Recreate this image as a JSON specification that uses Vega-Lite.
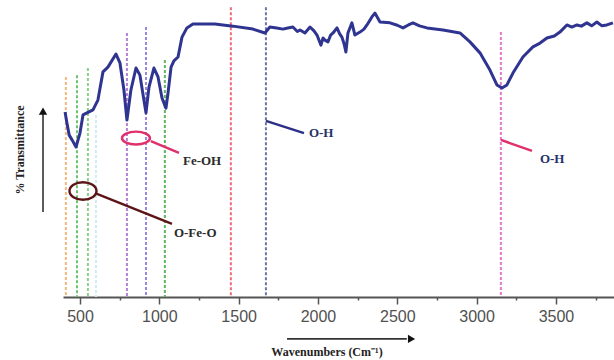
{
  "$schema": "https://vega.github.io/schema/vega-lite/v6.json",
  "width": 551,
  "height": 297,
  "autosize": "none",
  "padding": {"left": 63, "top": 0, "right": 0, "bottom": 63},
  "background": "white",
  "config": {"view": {"stroke": null}},
  "datasets": {
    "spectrum": [
      {"wn": 406, "t": 62.3}, {"wn": 418, "t": 58.5}, {"wn": 432, "t": 54.5}, {"wn": 450, "t": 52.9}, {"wn": 475, "t": 50.5},
      {"wn": 500, "t": 55.2}, {"wn": 519, "t": 61.3}, {"wn": 544, "t": 62.0}, {"wn": 582, "t": 63.0}, {"wn": 613, "t": 66.3},
      {"wn": 645, "t": 75.8}, {"wn": 676, "t": 77.4}, {"wn": 727, "t": 81.8}, {"wn": 752, "t": 78.8}, {"wn": 777, "t": 69.7},
      {"wn": 796, "t": 59.6}, {"wn": 821, "t": 69.7}, {"wn": 853, "t": 77.1}, {"wn": 878, "t": 74.7}, {"wn": 903, "t": 66.3},
      {"wn": 916, "t": 62.0}, {"wn": 935, "t": 70.7}, {"wn": 966, "t": 77.1}, {"wn": 992, "t": 74.1}, {"wn": 1017, "t": 67.0},
      {"wn": 1042, "t": 63.6}, {"wn": 1055, "t": 68.7}, {"wn": 1074, "t": 77.4}, {"wn": 1092, "t": 79.5}, {"wn": 1118, "t": 80.8},
      {"wn": 1143, "t": 87.5}, {"wn": 1174, "t": 90.6}, {"wn": 1212, "t": 91.9}, {"wn": 1256, "t": 91.9}, {"wn": 1350, "t": 91.9},
      {"wn": 1464, "t": 91.2}, {"wn": 1590, "t": 90.2}, {"wn": 1666, "t": 88.9}, {"wn": 1697, "t": 90.9}, {"wn": 1740, "t": 90.6},
      {"wn": 1779, "t": 90.2}, {"wn": 1810, "t": 90.6}, {"wn": 1842, "t": 90.9}, {"wn": 1870, "t": 89.4}, {"wn": 1887, "t": 89.9},
      {"wn": 1918, "t": 88.9}, {"wn": 1950, "t": 90.9}, {"wn": 1975, "t": 89.6}, {"wn": 1994, "t": 88.2}, {"wn": 2019, "t": 84.8},
      {"wn": 2032, "t": 87.2}, {"wn": 2044, "t": 86.5}, {"wn": 2063, "t": 85.9}, {"wn": 2080, "t": 88.2}, {"wn": 2095, "t": 88.9},
      {"wn": 2120, "t": 90.6}, {"wn": 2137, "t": 88.6}, {"wn": 2151, "t": 87.5}, {"wn": 2165, "t": 85.2}, {"wn": 2176, "t": 82.5},
      {"wn": 2189, "t": 88.9}, {"wn": 2214, "t": 92.3}, {"wn": 2233, "t": 88.2}, {"wn": 2265, "t": 89.2}, {"wn": 2290, "t": 90.2},
      {"wn": 2309, "t": 91.6}, {"wn": 2340, "t": 94.3}, {"wn": 2359, "t": 95.6}, {"wn": 2391, "t": 92.6}, {"wn": 2454, "t": 92.3},
      {"wn": 2500, "t": 91.5}, {"wn": 2536, "t": 90.6}, {"wn": 2570, "t": 91.6}, {"wn": 2599, "t": 92.3}, {"wn": 2640, "t": 91.3},
      {"wn": 2687, "t": 90.6}, {"wn": 2788, "t": 89.9}, {"wn": 2895, "t": 88.9}, {"wn": 2958, "t": 85.9}, {"wn": 3021, "t": 82.2},
      {"wn": 3084, "t": 76.4}, {"wn": 3128, "t": 71.4}, {"wn": 3160, "t": 70.4}, {"wn": 3191, "t": 71.4}, {"wn": 3229, "t": 75.4},
      {"wn": 3292, "t": 80.8}, {"wn": 3355, "t": 84.2}, {"wn": 3400, "t": 85.5}, {"wn": 3443, "t": 87.2}, {"wn": 3490, "t": 87.9},
      {"wn": 3525, "t": 89.2}, {"wn": 3569, "t": 91.6}, {"wn": 3600, "t": 90.9}, {"wn": 3632, "t": 91.6}, {"wn": 3660, "t": 91.2},
      {"wn": 3695, "t": 92.3}, {"wn": 3725, "t": 91.3}, {"wn": 3758, "t": 92.6}, {"wn": 3790, "t": 91.3}, {"wn": 3821, "t": 91.6},
      {"wn": 3859, "t": 92.3}
    ],
    "bands": [
      {"band": "b411", "wn": 411, "top": 74.1},
      {"band": "b481", "wn": 481, "top": 74.7},
      {"band": "b550", "wn": 550, "top": 77.1},
      {"band": "b601", "wn": 601, "top": 61.3},
      {"band": "b796", "wn": 796, "top": 88.9},
      {"band": "b916", "wn": 916, "top": 90.9},
      {"band": "b1035", "wn": 1035, "top": 79.8},
      {"band": "b1451", "wn": 1451, "top": 97.6},
      {"band": "b1672", "wn": 1672, "top": 97.6},
      {"band": "b3153", "wn": 3153, "top": 89.2}
    ],
    "callouts": [
      {"label": "Fe-OH", "wn": 947, "t": 52.5, "wn2": 1124, "t2": 48.5, "lwn": 1149, "lt": 45.8},
      {"label": "O-Fe-O", "wn": 595, "t": 35.0, "wn2": 1080, "t2": 24.6, "lwn": 1092, "lt": 21.5},
      {"label": "O-H", "wn": 1672, "t": 59.3, "wn2": 1912, "t2": 55.2, "lwn": 1943, "lt": 55.2},
      {"label": "O-H", "wn": 3153, "t": 52.9, "wn2": 3349, "t2": 49.2, "lwn": 3399, "lt": 46.5}
    ],
    "rings": [
      {"label": "Fe-OH", "wn": 853, "t": 53.5},
      {"label": "O-Fe-O", "wn": 519, "t": 35.7}
    ],
    "arrows": [
      {"axis": "y", "wn": 267, "t": 28.6, "wn2": 267, "t2": 62.0, "hwn": 267, "ht": 62.6},
      {"axis": "x", "wn": 1805, "t": -14.1, "wn2": 2560, "t2": -14.1, "hwn": 2590, "ht": -14.1}
    ],
    "titles": [
      {"axis": "y", "text": "% Transmittance", "wn": 122, "t": 49.5},
      {"axis": "x", "text": "Wavenumbers (Cm⁻¹)", "wn": 2057, "t": -18.6}
    ]
  },
  "encoding": {
    "x": {"type": "quantitative"},
    "y": {"type": "quantitative"}
  },
  "layer": [
    {
      "data": {"name": "bands"},
      "mark": {"type": "rule", "strokeWidth": 2, "strokeDash": [3, 2]},
      "encoding": {
        "x": {"field": "wn", "type": "quantitative",
          "scale": {"domain": [393, 3866], "nice": false, "zero": false},
          "axis": {
            "values": [500, 750, 1000, 1250, 1500, 1750, 2000, 2250, 2500, 2750, 3000, 3250, 3500, 3750],
            "labelExpr": "datum.value % 500 === 0 ? datum.label : ''",
            "format": "d",
            "title": null,
            "grid": false,
            "domainColor": "#555555",
            "domainWidth": 2,
            "tickColor": "#555555",
            "tickWidth": 1.5,
            "tickSize": {"condition": {"test": "datum.value % 500 === 0", "value": 7}, "value": 3},
            "labelFont": "Liberation Sans",
            "labelFontSize": 16,
            "labelColor": "#505050",
            "labelPadding": 4,
            "labelFlush": false,
            "labelOverlap": false
          }
        },
        "y": {"field": "top", "type": "quantitative",
          "scale": {"domain": [0, 100], "nice": false, "zero": false},
          "axis": null
        },
        "y2": {"datum": 0},
        "color": {"field": "band", "type": "nominal", "legend": null,
          "scale": {
            "domain": ["b411", "b481", "b550", "b601", "b796", "b916", "b1035", "b1451", "b1672", "b3153"],
            "range": ["#f2b77a", "#6cc36c", "#8ccf86", "#cdeef4", "#b77fd6", "#9a86e0", "#5cb85c", "#f06a78", "#6a74a6", "#e37ac8"]
          }
        }
      }
    },
    {
      "data": {"name": "spectrum"},
      "mark": {"type": "line", "color": "#2f3491", "strokeWidth": 3, "strokeJoin": "round"},
      "encoding": {
        "x": {"field": "wn", "type": "quantitative"},
        "y": {"field": "t", "type": "quantitative"}
      }
    },
    {
      "data": {"name": "callouts"},
      "mark": {"type": "rule", "strokeWidth": 2.4},
      "encoding": {
        "x": {"field": "wn", "type": "quantitative"},
        "x2": {"field": "wn2"},
        "y": {"field": "t", "type": "quantitative"},
        "y2": {"field": "t2"},
        "color": {
          "condition": [
            {"test": "datum.label === 'O-Fe-O'", "value": "#5e1518"},
            {"test": "datum.label === 'O-H' && datum.wn < 2000", "value": "#2b2f86"}
          ],
          "value": "#e0306c"
        }
      }
    },
    {
      "data": {"name": "rings"},
      "transform": [{"filter": "datum.label === 'Fe-OH'"}],
      "mark": {"type": "point", "filled": false, "strokeWidth": 2.4, "color": "#e0306c", "opacity": 1,
        "shape": "M-1,0A1,0.46,0,1,0,1,0A1,0.46,0,1,0,-1,0Z", "size": 784},
      "encoding": {
        "x": {"field": "wn", "type": "quantitative"},
        "y": {"field": "t", "type": "quantitative"}
      }
    },
    {
      "data": {"name": "rings"},
      "transform": [{"filter": "datum.label === 'O-Fe-O'"}],
      "mark": {"type": "point", "filled": false, "strokeWidth": 2.4, "color": "#5e1518", "opacity": 1,
        "shape": "M-1,0A1,0.65,0,1,0,1,0A1,0.65,0,1,0,-1,0Z", "size": 729},
      "encoding": {
        "x": {"field": "wn", "type": "quantitative"},
        "y": {"field": "t", "type": "quantitative"}
      }
    },
    {
      "data": {"name": "callouts"},
      "mark": {"type": "text", "align": "left", "baseline": "middle", "font": "Liberation Serif", "fontWeight": "bold", "fontSize": 13},
      "encoding": {
        "x": {"field": "lwn", "type": "quantitative"},
        "y": {"field": "lt", "type": "quantitative"},
        "text": {"field": "label"},
        "color": {"condition": {"test": "datum.label === 'O-H'", "value": "#26336a"}, "value": "#2a2a2a"}
      }
    },
    {
      "data": {"name": "arrows"},
      "mark": {"type": "rule", "strokeWidth": 1.6, "color": "#333333"},
      "encoding": {
        "x": {"field": "wn", "type": "quantitative"},
        "x2": {"field": "wn2"},
        "y": {"field": "t", "type": "quantitative"},
        "y2": {"field": "t2"}
      }
    },
    {
      "data": {"name": "arrows"},
      "mark": {"type": "point", "filled": true, "color": "#111111", "size": 70, "opacity": 1},
      "encoding": {
        "x": {"field": "hwn", "type": "quantitative"},
        "y": {"field": "ht", "type": "quantitative"},
        "shape": {"condition": {"test": "datum.axis === 'y'", "value": "triangle-up"}, "value": "triangle-right"}
      }
    },
    {
      "data": {"name": "titles"},
      "mark": {"type": "text", "align": "center", "baseline": "middle", "font": "Liberation Serif", "fontWeight": "bold", "fontSize": 12, "color": "#222222"},
      "encoding": {
        "x": {"field": "wn", "type": "quantitative"},
        "y": {"field": "t", "type": "quantitative"},
        "text": {"field": "text"},
        "angle": {"condition": {"test": "datum.axis === 'y'", "value": 270}, "value": 0}
      }
    }
  ]
}
